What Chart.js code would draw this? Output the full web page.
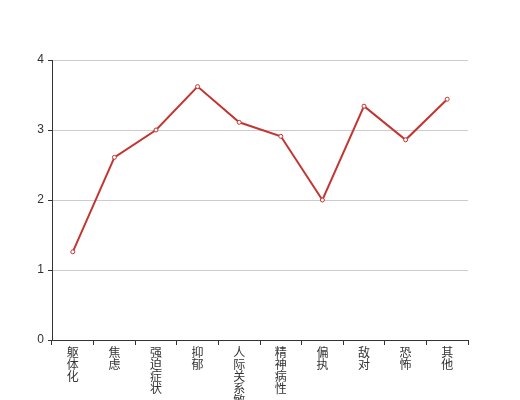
<!DOCTYPE html>
<html>
<head>
<meta charset="utf-8">
<script src="https://cdn.jsdelivr.net/npm/chart.js@4/dist/chart.umd.min.js"></script>
<style>
html,body{margin:0;padding:0;background:#fff;}
#wrap{width:520px;height:400px;}
</style>
</head>
<body>
<div id="wrap"><canvas id="c" width="520" height="400"></canvas></div>
<script>
const categories = ["躯体化","焦虑","强迫症状","抑郁","人际关系敏感","精神病性","偏执","敌对","恐怖","其他"];
const values = [1.26, 2.61, 3.0, 3.62, 3.11, 2.91, 2.0, 3.34, 2.86, 3.44];
const yTicks = [0, 1, 2, 3, 4];

const verticalLabels = categories.map(s => Array.from(s));
const fontFamily = "'Liberation Sans','Noto Sans CJK SC',sans-serif";

new Chart(document.getElementById('c'), {
  type: 'line',
  data: {
    labels: verticalLabels,
    datasets: [{
      data: values,
      borderColor: '#c23531',
      backgroundColor: '#ffffff',
      borderWidth: 2,
      pointRadius: 2,
      pointHoverRadius: 2,
      pointBorderWidth: 1,
      pointBorderColor: '#c23531',
      pointBackgroundColor: '#ffffff',
      tension: 0,
      fill: false
    }]
  },
  options: {
    responsive: false,
    animation: false,
    layout: { padding: { top: 60, left: 0, right: 52, bottom: 0 } },
    plugins: { legend: { display: false }, tooltip: { enabled: false } },
    scales: {
      x: {
        type: 'category',
        offset: true,
        grid: { offset: true, drawOnChartArea: false, drawTicks: true, tickLength: 5, tickColor: '#333', color: '#333' },
        border: { display: true, color: '#333', width: 1 },
        ticks: {
          autoSkip: false, maxRotation: 0, minRotation: 0, padding: 3,
          color: '#333',
          font: { family: fontFamily, size: 12, lineHeight: 1.0 }
        },
        afterFit(scale) { scale.height = 60; }
      },
      y: {
        min: 0, max: 4,
        afterBuildTicks(scale) { scale.ticks = yTicks.map(v => ({ value: v })); },
        grid: { color: '#cccccc', lineWidth: 1, drawTicks: true, tickLength: 4, tickColor: '#333' },
        border: { display: true, color: '#333', width: 1 },
        ticks: {
          padding: 4, color: '#333',
          font: { family: fontFamily, size: 12 }
        },
        afterFit(scale) { scale.width = 52; }
      }
    }
  }
});
</script>
</body>
</html>
